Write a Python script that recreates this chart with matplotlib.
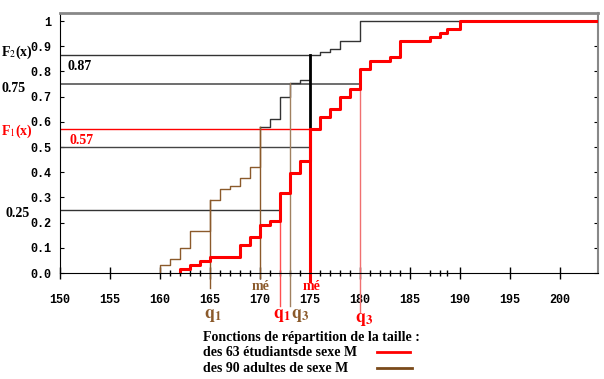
import numpy as np
import matplotlib.pyplot as plt
from matplotlib.lines import Line2D

# tailles (cm) et effectifs cumules
adultes_x = [160, 161, 162, 163, 165, 166, 167, 168, 169, 170, 171, 172, 173, 174, 175, 176, 177, 178, 180]
adultes_cum = [3, 5, 9, 15, 26, 30, 31, 34, 38, 52, 55, 63, 68, 69, 78, 79, 80, 83, 90]
n_adultes = 90

etud_x = [162, 163, 164, 165, 168, 169, 170, 171, 172, 173, 174, 175, 176, 177, 178, 179, 180, 181,
          183, 184, 187, 188, 188.7, 190]
etud_cum = [1, 2, 3, 4, 7, 9, 12, 13, 20, 25, 28, 36, 39, 41, 44, 46, 51, 53, 54, 58, 59, 60, 61, 63]
n_etud = 63

x_ticks = [150, 155, 160, 165, 170, 175, 180, 185, 190, 195, 200]
y_ticks = [0.0, 0.1, 0.2, 0.3, 0.4, 0.5, 0.6, 0.7, 0.8, 0.9, 1.0]
y_labels = ["0.0", "0.1", "0.2", "0.3", "0.4", "0.5", "0.6", "0.7", "0.8", "0.9", "1"]

# quartiles
q_adultes = {"q1": 165, "me": 170, "q3": 173}
q_etud = {"q1": 172, "me": 175, "q3": 180}

BRUN = "#8b5a2b"
ROUGE = "#ff0000"
XMAX = 203.8

plt.rcParams["mathtext.fontset"] = "stix"
W, H = 604, 379
fig = plt.figure(figsize=(W / 100, H / 100), dpi=100)
ax = fig.add_axes([60 / W, 1 - 273 / H, 538 / W, 260 / H])
ax.set_xlim(150, XMAX)
ax.set_ylim(0, 1.032)


def px(x, y):
    return x / W, 1 - y / H


F_ad = np.array(adultes_cum) / n_adultes
F_et = np.array(etud_cum) / n_etud

# courbe des adultes : partie basse en brun, partie haute en noir
k = adultes_x.index(q_adultes["me"])
xb = [adultes_x[0]] + adultes_x[:k + 1]
yb = [0] + list(F_ad[:k + 1])
ax.step(xb, yb, where="post", color=BRUN, lw=1, zorder=3)
xh = adultes_x[k:] + [XMAX]
yh = list(F_ad[k:]) + [1]
ax.step(xh, yh, where="post", color="#333333", lw=1, zorder=3)
i175 = adultes_x.index(175)
j175 = etud_x.index(175)
ax.plot([175, 175], [F_et[j175], F_ad[i175]], color="black", lw=2, zorder=4)

# courbe des etudiants
xe = [etud_x[0]] + etud_x + [XMAX]
ye = [0] + list(F_et) + [1]
ax.step(xe, ye, where="post", color=ROUGE, lw=2.2, zorder=5)

# lignes horizontales de lecture
ax.plot([150, 175], [F_ad[i175]] * 2, color="#333333", lw=1, zorder=2)
ax.plot([150, q_etud["q3"]], [0.75, 0.75], color="#555555", lw=1.2, zorder=2)
ax.plot([150, 175], [F_et[j175]] * 2, color=ROUGE, lw=1, zorder=2)
ax.plot([150, 175], [0.5, 0.5], color="#444444", lw=1, zorder=2)
ax.plot([150, q_etud["q1"]], [0.25, 0.25], color="#333333", lw=1, zorder=2)

# lignes verticales des quartiles
ax.plot([165, 165], [-0.06, F_ad[adultes_x.index(165)]], color=BRUN, lw=1, clip_on=False, zorder=3)
ax.plot([170, 170], [-0.02, F_ad[k]], color=BRUN, lw=1, clip_on=False, zorder=3)
ax.plot([173, 173], [-0.13, F_ad[adultes_x.index(173)]], color="#a08060", lw=1, clip_on=False, zorder=3)
ax.plot([172, 172], [-0.13, 0.25], color="#ff5050", lw=1, clip_on=False, zorder=3)
ax.plot([175, 175], [-0.03, F_et[j175]], color=ROUGE, lw=2.2, clip_on=False, zorder=5)
ax.plot([180, 180], [-0.155, 0.75], color="#f07070", lw=1, clip_on=False, zorder=3)

# axes
for s in ["top", "right"]:
    ax.spines[s].set_color("#888888")
ax.spines["top"].set_linewidth(2)
ax.spines["right"].set_linewidth(1.5)
ax.spines["left"].set_color("black")
ax.spines["bottom"].set_color("black")
ax.spines["bottom"].set_zorder(6)

mono = dict(family="Liberation Mono", weight="bold", size=8.5)
ax.set_xticks(x_ticks)
ax.set_xticklabels([str(v) for v in x_ticks], fontdict=mono)
ax.set_yticks(y_ticks)
ax.set_yticklabels(y_labels, fontdict=mono)
mineurs = [v for v in range(160, 185) if v % 5 != 0] + [187, 188, 188.7]
ax.set_xticks(mineurs, minor=True)
ax.tick_params(axis="x", which="major", direction="inout", length=8, width=1, pad=11)
ax.tick_params(axis="x", which="minor", direction="inout", length=4, width=1)
ax.tick_params(axis="y", which="major", direction="in", length=3, right=True, pad=6)
for v, t in zip(mineurs, ax.xaxis.get_minor_ticks()):
    if v in (179, 181, 183, 184, 187, 188, 188.7):
        t.tick1line.set_color(ROUGE)

serif = dict(family="Liberation Serif", weight="bold")
fig.text(*px(1, 52), r"F$_2$(x)", fontsize=10, ha="left", va="center", **serif)
fig.text(*px(68, 67), "0.87", fontsize=10, ha="left", va="center", **serif)
fig.text(*px(2, 88), "0.75", fontsize=10, ha="left", va="center", **serif)
fig.text(*px(1, 131), r"F$_1$(x)", fontsize=10, color=ROUGE, ha="left", va="center", **serif)
fig.text(*px(70, 141), "0.57", fontsize=10, color=ROUGE, ha="left", va="center", **serif)
fig.text(*px(6, 213), "0.25", fontsize=10, ha="left", va="center", **serif)

fig.text(*px(261, 286), "mé", fontsize=10, color=BRUN, ha="center", va="center", **serif)
fig.text(*px(312, 286), "mé", fontsize=10, color=ROUGE, ha="center", va="center", **serif)
fig.text(*px(213, 315), r"$\mathbf{q_1}$", fontsize=13, color=BRUN, ha="center", va="center")
fig.text(*px(282, 315), r"$\mathbf{q_1}$", fontsize=13, color=ROUGE, ha="center", va="center")
fig.text(*px(300, 315), r"$\mathbf{q_3}$", fontsize=13, color=BRUN, ha="center", va="center")
fig.text(*px(364, 319), r"$\mathbf{q_3}$", fontsize=13, color=ROUGE, ha="center", va="center")

# legende
fig.text(*px(203, 338), "Fonctions de répartition de la taille :", fontsize=10, ha="left", va="center", **serif)
fig.text(*px(203, 353), "des 63 étudiantsde sexe M", fontsize=10, ha="left", va="center", **serif)
fig.text(*px(203, 368), "des 90 adultes de sexe M", fontsize=10, ha="left", va="center", **serif)
fig.add_artist(Line2D([377 / W, 410 / W], [1 - 352 / H] * 2, color=ROUGE, lw=2))
fig.add_artist(Line2D([377 / W, 412 / W], [1 - 368 / H] * 2, color="#7a4a1a", lw=2))

fig.savefig("out.png", dpi=100)
